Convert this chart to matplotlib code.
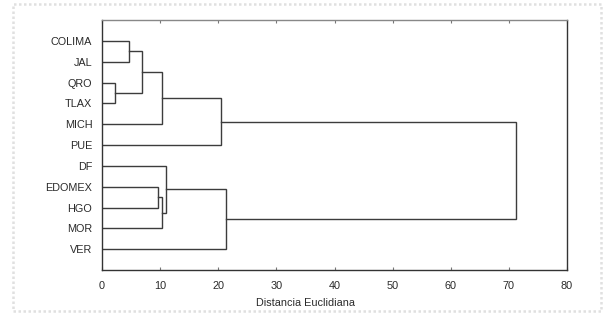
import numpy as np
import matplotlib
matplotlib.use("Agg")
from matplotlib import pyplot as plt
from matplotlib.patches import Rectangle

plt.rcParams["font.family"] = ["Liberation Sans", "DejaVu Sans"]

labels = ["COLIMA", "JAL", "QRO", "TLAX", "MICH", "PUE",
          "DF", "EDOMEX", "HGO", "MOR", "VER"]
# linkage rows: child a, child b, distance (leaves are 0..10, clusters 11..)
link_a = [2, 0, 12, 7, 13, 14, 6, 15, 17, 18]
link_b = [3, 1, 11, 8, 4, 9, 16, 5, 10, 19]
link_d = [2.2, 4.7, 6.8, 9.7, 10.4, 10.4, 11.0, 20.4, 21.3, 71.3]
xticks = [0, 10, 20, 30, 40, 50, 60, 70, 80]

n = len(labels)
pos = {i: float(i) for i in range(n)}
hgt = {i: 0.0 for i in range(n)}

fig = plt.figure(figsize=(6.06, 3.15), dpi=100)
ax = fig.add_axes([102/606, 45/315, 465/606, 250/315])

for k, (a, b, d) in enumerate(zip(link_a, link_b, link_d)):
    ax.plot([hgt[a], d, d, hgt[b]], [pos[a], pos[a], pos[b], pos[b]],
            color="#3c3c3c", lw=1.0, solid_joinstyle="miter")
    c = n + k
    pos[c] = (pos[a] + pos[b]) / 2
    hgt[c] = d

ax.set_xlim(0, 80)
ax.set_ylim(n, -1)
ax.set_yticks(range(n))
ax.set_yticklabels(labels)
ax.set_xticks(xticks)
ax.tick_params(axis="y", length=0, pad=7, labelsize=7.8, labelcolor="#2a2a2a")
ax.tick_params(axis="x", direction="in", length=2.5, width=0.8, top=True,
               pad=8, labelsize=7.8, labelcolor="#2a2a2a", color="#777777")
for s in ["left", "right", "bottom"]:
    ax.spines[s].set_color("#333333")
    ax.spines[s].set_linewidth(1.0)
ax.spines["top"].set_color("#888888")
ax.spines["top"].set_linewidth(1.0)

ax.set_xlabel("Distancia Euclidiana", fontsize=7.8, color="#2a2a2a")
ax.xaxis.set_label_coords((305 - 102) / 465, -0.11)

fig.patches.append(Rectangle((13/606, 4/315), 588/606, 307/315,
                             transform=fig.transFigure, fill=False,
                             edgecolor="#e0e0e0", lw=1.8, ls=(0, (1, 1))))

fig.savefig("out.png", dpi=100)
